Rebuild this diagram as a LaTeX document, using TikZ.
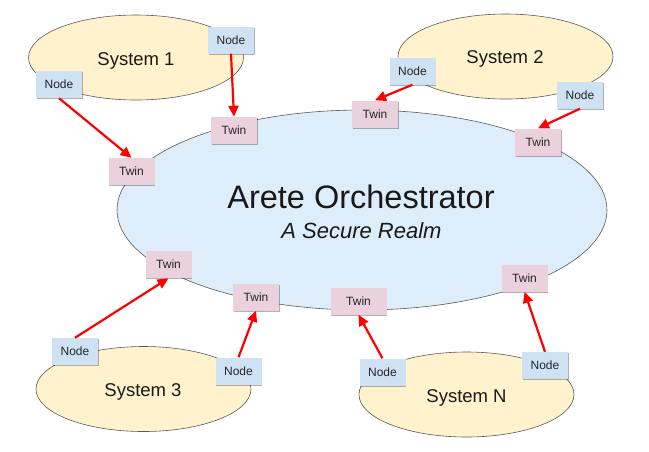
\documentclass[tikz,border=0pt]{standalone}
\usepackage{fontspec}
\setmainfont{Liberation Sans}
\usetikzlibrary{shapes.geometric,shadows,arrows.meta}
\definecolor{sysfill}{HTML}{FFF2CC}
\definecolor{realmfill}{HTML}{DDEEFA}
\definecolor{nodefill}{HTML}{CFE2F3}
\definecolor{twinfill}{HTML}{EAD1DC}
\definecolor{edgegray}{HTML}{595959}
\definecolor{arrowred}{HTML}{FF0000}
\tikzset{
  sysell/.style={ellipse, draw=edgegray, line width=0.6pt, fill=sysfill, inner sep=0pt, minimum width=215pt, minimum height=85pt},
  realm/.style={ellipse, draw=edgegray, line width=0.6pt, fill=realmfill, inner sep=0pt, minimum width=490pt, minimum height=200pt},
  systext/.style={anchor=base, font=\fontsize{18.5}{20}\selectfont, text=black!90},
  boxbase/.style={inner sep=0pt, minimum width=46pt, minimum height=27pt, font=\fontsize{12}{14}\selectfont, text=black!85,
    drop shadow={shadow xshift=0.8pt, shadow yshift=-1.3pt, opacity=0.3, fill=black}},
  nodebox/.style={boxbase, fill=nodefill},
  twinbox/.style={boxbase, fill=twinfill},
  link/.style={draw=arrowred, line width=2.2pt, -{Triangle[length=11pt,width=10pt]}}
}
\begin{document}
\begin{tikzpicture}[x=1pt,y=-1pt]
\useasboundingbox (0,0) rectangle (649,451);
% systems
\node[sysell] (sys1) at (136,57.5) {};
\node[sysell] (sys2) at (505.5,56.5) {};
\node[sysell] (sys3) at (143.5,389) {};
\node[sysell] (sysN) at (466.5,394.5) {};
\node[systext] (t1) at (136,65) {System 1};
\node[systext] (t2) at (505,63) {System 2};
\node[systext] (t3) at (143,396) {System 3};
\node[systext] (tN) at (466.5,402) {System N};
% realm
\node[realm] (realm) at (362,210) {};
\node[anchor=base, font=\fontsize{32.5}{36}\selectfont, text=black!90] (title) at (361,208) {Arete Orchestrator};
\node[anchor=base, font=\itshape\fontsize{22}{26}\selectfont, text=black!90] (sub) at (361.5,238) {A Secure Realm};
% twins
\node[twinbox] (tw1a) at (131.5,171.5) {Twin};
\node[twinbox] (tw1b) at (234,130.5) {Twin};
\node[twinbox] (tw2a) at (375,114) {Twin};
\node[twinbox] (tw2b) at (538,142) {Twin};
\node[twinbox] (tw3a) at (168.5,264.5) {Twin};
\node[twinbox] (tw3b) at (256,297) {Twin};
\node[twinbox, minimum width=56pt] (twNa) at (358.5,301) {Twin};
\node[twinbox] (twNb) at (524.5,278) {Twin};
% nodes
\node[nodebox] (n1a) at (59,84.5) {Node};
\node[nodebox] (n1b) at (231,40) {Node};
\node[nodebox] (n2a) at (412.5,71) {Node};
\node[nodebox] (n2b) at (580,95) {Node};
\node[nodebox] (n3a) at (75,351.5) {Node};
\node[nodebox] (n3b) at (238.5,371) {Node};
\node[nodebox] (nNa) at (382.5,372) {Node};
\node[nodebox] (nNb) at (545,365.5) {Node};
% links
\draw[link] (n1a.south) -- (tw1a.north);
\draw[link] (n1b.south) -- (tw1b.north);
\draw[link] (n2a.south) -- (tw2a.north);
\draw[link] (n2b.south) -- (tw2b.north);
\draw[link] (n3a.north) -- (tw3a.south);
\draw[link] (n3b.north) -- (tw3b.south);
\draw[link] (nNa.north) -- (twNa.south);
\draw[link] (nNb.north) -- (twNb.south);
\end{tikzpicture}
\end{document}
